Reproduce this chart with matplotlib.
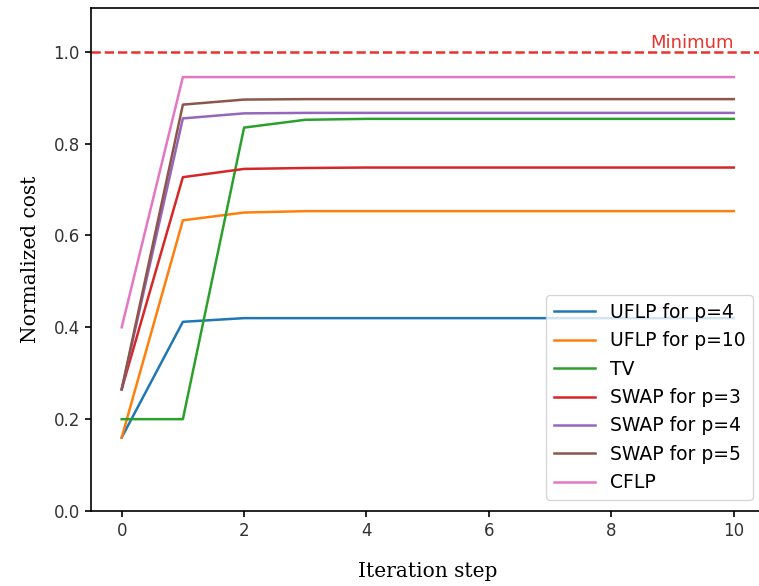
import numpy as np
import matplotlib.pyplot as plt

steps = np.arange(11)
labels = ["UFLP for p=4", "UFLP for p=10", "TV", "SWAP for p=3",
          "SWAP for p=4", "SWAP for p=5", "CFLP"]
uflp4 = [0.16, 0.412, 0.420, 0.420, 0.420, 0.420, 0.420, 0.420, 0.420, 0.420, 0.420]
uflp10 = [0.16, 0.633, 0.650, 0.653, 0.653, 0.653, 0.653, 0.653, 0.653, 0.653, 0.653]
tv = [0.20, 0.20, 0.835, 0.852, 0.854, 0.854, 0.854, 0.854, 0.854, 0.854, 0.854]
swap3 = [0.265, 0.727, 0.745, 0.747, 0.748, 0.748, 0.748, 0.748, 0.748, 0.748, 0.748]
swap4 = [0.265, 0.855, 0.866, 0.867, 0.867, 0.867, 0.867, 0.867, 0.867, 0.867, 0.867]
swap5 = [0.265, 0.885, 0.896, 0.897, 0.897, 0.897, 0.897, 0.897, 0.897, 0.897, 0.897]
cflp = [0.40, 0.945, 0.945, 0.945, 0.945, 0.945, 0.945, 0.945, 0.945, 0.945, 0.945]
series = [uflp4, uflp10, tv, swap3, swap4, swap5, cflp]

fig = plt.figure(figsize=(7.59, 5.86), dpi=100)
ax = fig.add_axes([0.12, 0.128, 0.887, 0.858])

for ys, lab in zip(series, labels):
    ax.plot(steps, ys, label=lab, linewidth=1.8)

ax.axhline(1.0, color="#e8322b", linestyle="--", linewidth=1.8)
ax.text(10, 1.0, "Minimum", color="#e8322b", ha="right", va="bottom", fontsize=13)

ax.set_xlim(-0.5, 10.5)
ax.set_ylim(0, 1.095)
ax.set_xticks([0, 2, 4, 6, 8, 10])
ax.set_yticks([0.0, 0.2, 0.4, 0.6, 0.8, 1.0])
ax.tick_params(labelsize=12, labelcolor="#333333", width=1.2, length=4.5)
for s in ax.spines.values():
    s.set_linewidth(1.2)
ax.set_xlabel("Iteration step", family="DejaVu Serif", fontsize=14.5, labelpad=16)
ax.set_ylabel("Normalized cost", family="DejaVu Serif", fontsize=14.5, labelpad=10)
ax.legend(loc="lower right", fontsize=13.5, handlelength=2.2, borderaxespad=0.6)

fig.savefig("out.png", dpi=100)
